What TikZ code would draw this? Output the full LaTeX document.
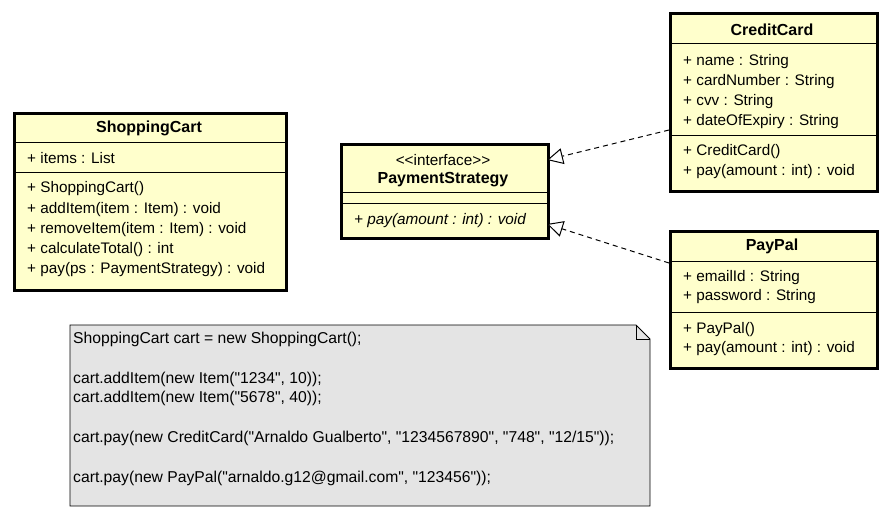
\documentclass[tikz,border=0pt]{standalone}
\usepackage{fontspec}
\setmainfont{Liberation Sans}[Ligatures=TeXOff]
\usepackage{tikz}
\usetikzlibrary{arrows.meta}
\usetikzlibrary{positioning}

\definecolor{classfill}{RGB}{255,255,204}
\definecolor{notefill}{RGB}{228,228,228}

\begin{document}
\begin{tikzpicture}[x=1pt,y=-1pt,
	cls/.style={draw, line width=2.6pt, fill=classfill, anchor=north west, inner sep=0pt},
	sep/.style={line width=1pt},
	txt/.style={anchor=west, inner sep=0pt, font=\fontsize{15.3}{17}\selectfont},
	ntxt/.style={anchor=west, inner sep=0pt, font=\fontsize{15.7}{17}\selectfont},
	ttl/.style={anchor=center, inner sep=0pt, font=\fontsize{16}{18}\selectfont\bfseries},
	real/.style={dashed, dash pattern=on 5pt off 4pt, line width=1pt,
		-{Triangle[open, length=16pt, width=16pt, fill=white]}}]
\useasboundingbox (0,0) rectangle (888,516);

% ShoppingCart
\node [cls, minimum width=272pt, minimum height=177pt] (cart) at (13,112) {};
\draw [sep] (cart.west |- 0,142) -- (cart.east |- 0,142);
\draw [sep] (cart.west |- 0,172) -- (cart.east |- 0,172);
\node [ttl] (cartT) at (149,128) {ShoppingCart};
\node [txt] (cartA) at (27,158) {+ items : List};
\node [txt] (cartM1) at (27,189) {+ ShoppingCart()};
\node [txt] (cartM2) at (27,210) {+ addItem(item : Item) : void};
\node [txt] (cartM3) at (27,230) {+ removeItem(item : Item) : void};
\node [txt] (cartM4) at (27,250) {+ calculateTotal() : int};
\node [txt] (cartM5) at (27,270) {+ pay(ps : PaymentStrategy) : void};

% PaymentStrategy
\node [cls, minimum width=207pt, minimum height=94pt] (strat) at (340,143) {};
\draw [sep] (strat.west |- 0,192) -- (strat.east |- 0,192);
\draw [sep] (strat.west |- 0,203) -- (strat.east |- 0,203);
\node [txt, anchor=center] (stratS) at (443,160) {<<interface>>};
\node [ttl] (stratT) at (443,180) {PaymentStrategy};
\node [txt, font=\fontsize{15.3}{17}\selectfont\itshape] (stratM) at (354,221) {+ pay(amount : int) : void};

% CreditCard
\node [cls, minimum width=207pt, minimum height=178pt] (card) at (669,12) {};
\draw [sep] (card.west |- 0,44) -- (card.east |- 0,44);
\draw [sep] (card.west |- 0,135) -- (card.east |- 0,135);
\node [ttl] (cardT) at (772,30) {CreditCard};
\node [txt] (cardA1) at (683,62) {+ name : String};
\node [txt] (cardA2) at (683,82) {+ cardNumber : String};
\node [txt] (cardA3) at (683,102) {+ cvv : String};
\node [txt] (cardA4) at (683,122) {+ dateOfExpiry : String};
\node [txt] (cardM1) at (683,152) {+ CreditCard()};
\node [txt] (cardM2) at (683,172) {+ pay(amount : int) : void};

% PayPal
\node [cls, minimum width=207pt, minimum height=137pt] (paypal) at (669,230) {};
\draw [sep] (paypal.west |- 0,261) -- (paypal.east |- 0,261);
\draw [sep] (paypal.west |- 0,312) -- (paypal.east |- 0,312);
\node [ttl] (paypalT) at (772,246) {PayPal};
\node [txt] (paypalA1) at (683,278) {+ emailId : String};
\node [txt] (paypalA2) at (683,297) {+ password : String};
\node [txt] (paypalM1) at (683,330) {+ PayPal()};
\node [txt] (paypalM2) at (683,349) {+ pay(amount : int) : void};

% realizations
\coordinate (cardIn) at (669,130);
\coordinate (paypalIn) at (669,263);
\coordinate (stratUp) at (547,160);
\coordinate (stratDown) at (547,224);
\draw [real] (cardIn) -- (stratUp);
\draw [real] (paypalIn) -- (stratDown);

% note
\draw [fill=notefill, line width=0.8pt] (70,325) -- (636,325) -- (650,339) -- (650,506) -- (70,506) -- cycle;
\draw [line width=0.8pt] (636,325) -- (636,339) -- (650,339);
\node [ntxt] (n1) at (73,339) {ShoppingCart cart = new ShoppingCart();};
\node [ntxt] (n2) at (73,379) {cart.addItem(new Item("1234", 10));};
\node [ntxt] (n3) at (73,398) {cart.addItem(new Item("5678", 40));};
\node [ntxt] (n4) at (73,438) {cart.pay(new CreditCard("Arnaldo Gualberto", "1234567890", "748", "12/15"));};
\node [ntxt] (n5) at (73,478) {cart.pay(new PayPal("arnaldo.g12@gmail.com", "123456"));};
\end{tikzpicture}
\end{document}
